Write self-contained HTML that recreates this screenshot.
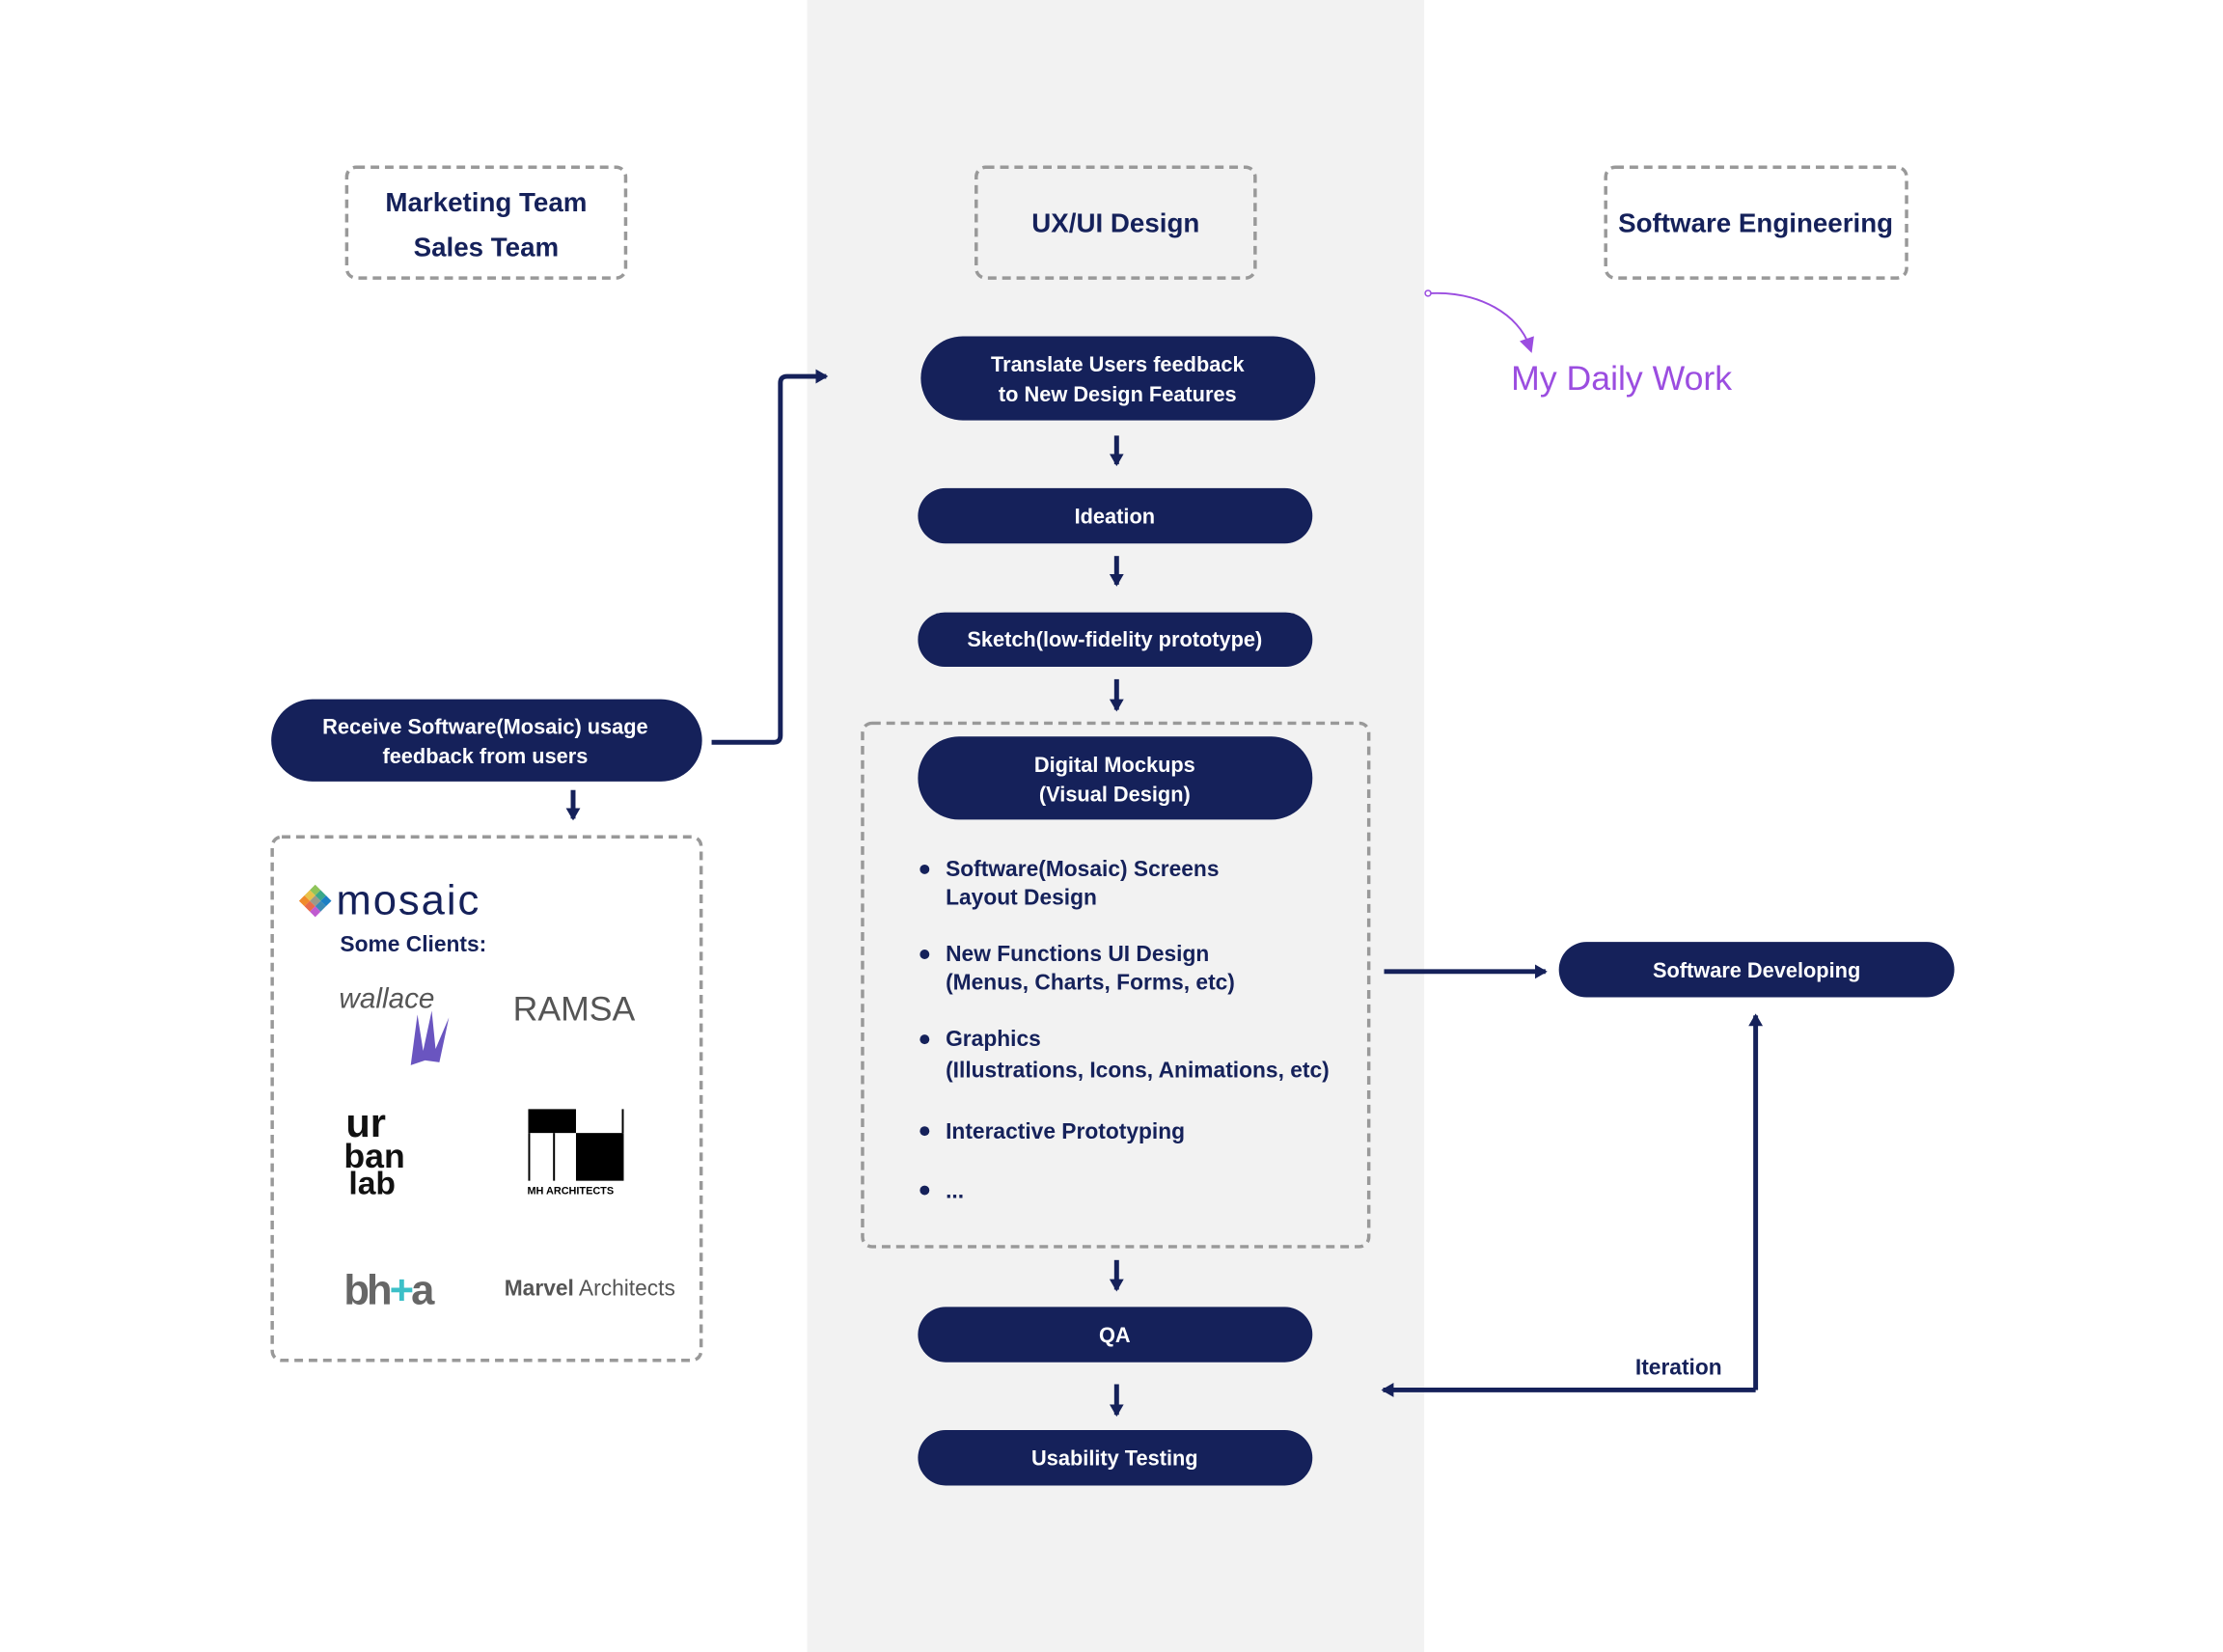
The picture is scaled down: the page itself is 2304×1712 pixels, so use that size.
<!DOCTYPE html>
<html><head><meta charset="utf-8"><style>
html,body{margin:0;padding:0;background:#fff}
svg{display:block}
text{font-family:"Liberation Sans",sans-serif}
.n{fill:#15215a}
.w{fill:#fff;font-weight:bold;font-size:22px;text-anchor:middle}
.h{fill:#15215a;font-weight:bold;font-size:28px;text-anchor:middle}
.b{fill:#15215a;font-weight:bold;font-size:23px}
.d{fill:none;stroke:#999;stroke-width:3.5;stroke-dasharray:9 6}
</style></head><body>
<svg width="2304" height="1712" viewBox="0 0 2304 1712" xmlns="http://www.w3.org/2000/svg">
<defs>
<marker id="a" markerWidth="4" markerHeight="4" refX="2.2" refY="2" orient="auto" markerUnits="strokeWidth"><path d="M0,0.5 L2.6,2 L0,3.5 Z" fill="#15215a"/></marker>
<marker id="p" markerWidth="8" markerHeight="8" refX="4" refY="4" orient="auto" markerUnits="strokeWidth"><path d="M0,0 L8,4 L0,8 Z" fill="#9b4de0"/></marker>
</defs>
<g transform="scale(0.99)">
<rect x="845" y="0" width="646" height="1740" fill="#f2f2f2"/>
<rect class="d" x="363" y="175" width="292" height="116" rx="10"/>
<text class="h" x="509" y="221">Marketing Team</text>
<text class="h" x="509" y="268">Sales Team</text>
<rect class="d" x="1022" y="175" width="292" height="116" rx="10"/>
<text class="h" x="1168" y="243">UX/UI Design</text>
<rect class="d" x="1681" y="175" width="315" height="116" rx="10"/>
<text class="h" x="1838" y="243">Software Engineering</text>
<circle cx="1495" cy="307" r="3" fill="none" stroke="#9b4de0" stroke-width="1.5"/>
<path d="M1498,307 C1550,305 1590,330 1601,362" fill="none" stroke="#9b4de0" stroke-width="2" marker-end="url(#p)"/>
<text x="1582" y="408" fill="#9b4de0" font-size="36">My Daily Work</text>
<rect class="n" x="964" y="352" width="413" height="88" rx="44"/>
<text class="w" x="1170" y="389">Translate Users feedback</text>
<text class="w" x="1170" y="420">to New Design Features</text>
<g stroke="#15215a" stroke-width="5" fill="none" marker-end="url(#a)">
<line x1="1169" y1="456" x2="1169" y2="486"/>
<line x1="1169" y1="582" x2="1169" y2="612"/>
<line x1="1169" y1="711" x2="1169" y2="743"/>
<line x1="1169" y1="1319" x2="1169" y2="1350"/>
<line x1="1169" y1="1449" x2="1169" y2="1481"/>
<line x1="1449" y1="1017" x2="1618" y2="1017"/>
<path d="M1838,1455 L1838,1063"/>
<path d="M1838,1455 L1448,1455"/>
<path d="M745,777 L810,777 Q817,777 817,770 L817,401 Q817,394 824,394 L865,394"/>
<line x1="600" y1="827" x2="600" y2="857"/>
</g>
<rect class="n" x="961" y="511" width="413" height="58" rx="29"/>
<text class="w" x="1167" y="548">Ideation</text>
<rect class="n" x="961" y="641" width="413" height="57" rx="28"/>
<text class="w" x="1167" y="677">Sketch(low-fidelity prototype)</text>
<rect class="d" x="903" y="757" width="530" height="548" rx="10"/>
<rect class="n" x="961" y="771" width="413" height="87" rx="43"/>
<text class="w" x="1167" y="808">Digital Mockups</text>
<text class="w" x="1167" y="839">(Visual Design)</text>
<g class="n"><circle cx="968" cy="910" r="5"/><circle cx="968" cy="999" r="5"/><circle cx="968" cy="1088" r="5"/><circle cx="968" cy="1184" r="5"/><circle cx="968" cy="1246" r="5"/></g>
<text class="b" x="990" y="917">Software(Mosaic) Screens</text>
<text class="b" x="990" y="947">Layout Design</text>
<text class="b" x="990" y="1006">New Functions UI Design</text>
<text class="b" x="990" y="1036">(Menus, Charts, Forms, etc)</text>
<text class="b" x="990" y="1095">Graphics</text>
<text class="b" x="990" y="1128">(Illustrations, Icons, Animations, etc)</text>
<text class="b" x="990" y="1192">Interactive Prototyping</text>
<text class="b" x="990" y="1254">...</text>
<rect class="n" x="961" y="1368" width="413" height="58" rx="29"/>
<text class="w" x="1167" y="1405">QA</text>
<rect class="n" x="961" y="1497" width="413" height="58" rx="29"/>
<text class="w" x="1167" y="1534">Usability Testing</text>
<rect class="n" x="1632" y="986" width="414" height="58" rx="29"/>
<text class="w" x="1839" y="1023">Software Developing</text>
<text class="b" x="1712" y="1439">Iteration</text>
<rect class="n" x="284" y="732" width="451" height="86" rx="43"/>
<text class="w" x="508" y="768">Receive Software(Mosaic) usage</text>
<text class="w" x="508" y="799">feedback from users</text>
<rect class="d" x="285" y="876" width="449" height="548" rx="10"/>
<g transform="translate(330,943) rotate(45)">
<rect x="-12" y="-12" width="8" height="8" fill="#8fc45a"/><rect x="-4" y="-12" width="8" height="8" fill="#3aa88a"/><rect x="4" y="-12" width="8" height="8" fill="#1a7fc4"/>
<rect x="-12" y="-4" width="8" height="8" fill="#e8c24a"/><rect x="-4" y="-4" width="8" height="8" fill="#9a9a8a"/><rect x="4" y="-4" width="8" height="8" fill="#3a8ab4"/>
<rect x="-12" y="4" width="8" height="8" fill="#f08a2a"/><rect x="-4" y="4" width="8" height="8" fill="#e86a4a"/><rect x="4" y="4" width="8" height="8" fill="#c05ad0"/>
</g>
<text x="352" y="957" fill="#15215a" font-size="44" letter-spacing="2">mosaic</text>
<text x="356" y="996" fill="#15215a" font-size="23" font-weight="bold">Some Clients:</text>
<text x="355" y="1055" fill="#555" font-size="30" font-style="italic" font-family="Liberation Serif,serif">wallace</text>
<path d="M430,1115 L437,1062 L443,1100 L452,1058 L456,1098 L470,1065 L460,1112 L445,1110 Z" fill="#6a55c0"/>
<text x="537" y="1068" fill="#555" font-size="36" font-family="Liberation Serif,serif">RAMSA</text>
<text x="362" y="1190" fill="#111" font-size="42" font-weight="bold">ur</text>
<text x="360" y="1222" fill="#111" font-size="36" font-weight="bold">ban</text>
<text x="365" y="1250" fill="#111" font-size="34" font-weight="bold">lab</text>
<rect x="553" y="1161" width="50" height="25" fill="#000"/>
<rect x="603" y="1186" width="50" height="50" fill="#000"/>
<rect x="553" y="1186" width="2" height="50" fill="#000"/><rect x="579" y="1186" width="2" height="50" fill="#000"/><rect x="651" y="1161" width="2" height="25" fill="#000"/>
<text x="552" y="1250" fill="#000" font-size="11" font-weight="bold">MH ARCHITECTS</text>
<text x="360" y="1365" fill="#666" font-size="44" font-weight="bold" letter-spacing="-3">bh<tspan fill="#3cc0c8">+</tspan>a</text>
<text x="528" y="1356" fill="#555" font-size="23" font-family="Liberation Serif,serif"><tspan font-weight="bold">Marvel</tspan> Architects</text>
</g>
</svg>
</body></html>
